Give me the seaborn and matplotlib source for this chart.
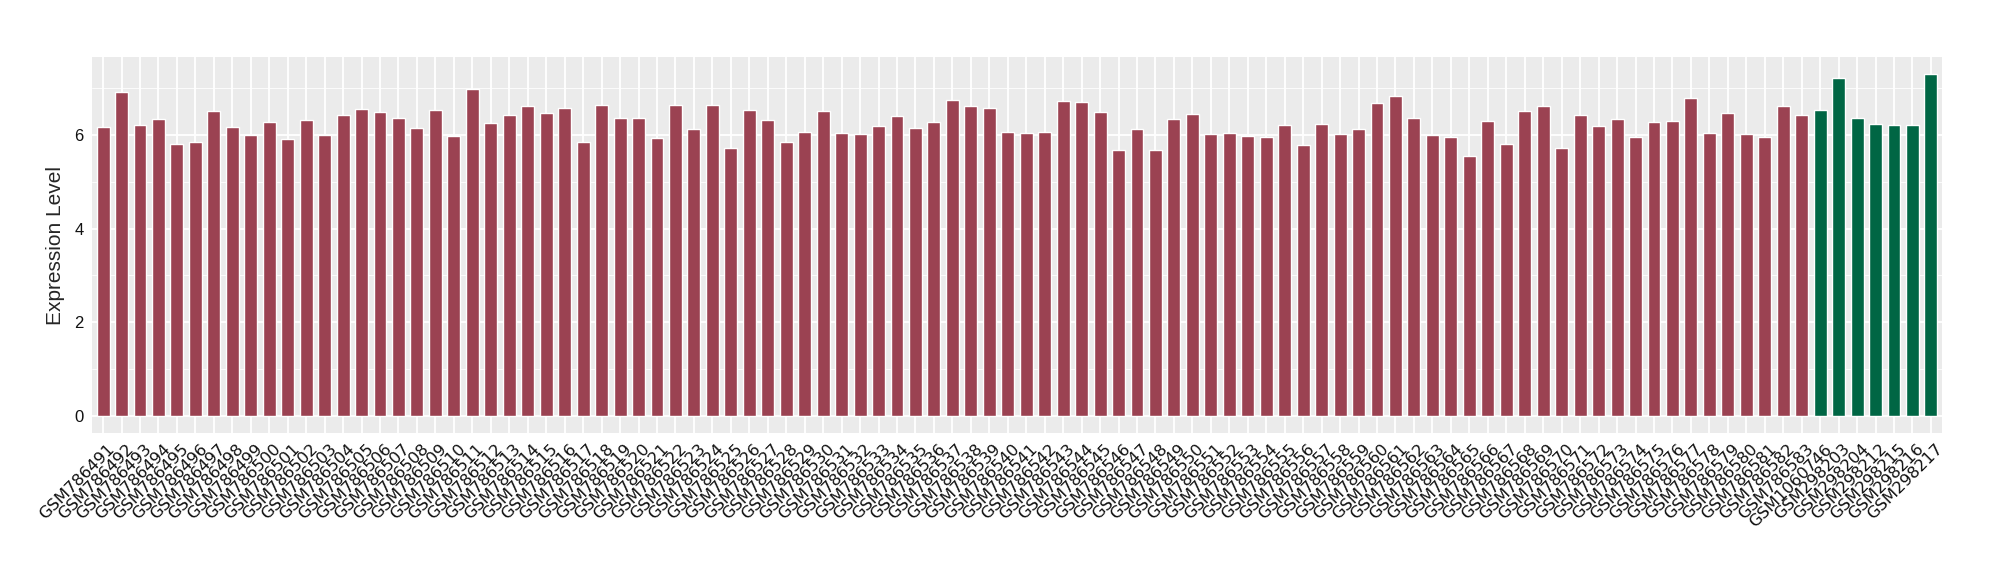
import matplotlib
matplotlib.use("Agg")
import matplotlib.pyplot as plt
import matplotlib.transforms as mtransforms
from matplotlib.ticker import MultipleLocator
import numpy as np
import pandas as pd
import seaborn as sns

# === DATA ===
red_samples = ["GSM%d" % n for n in range(786491, 786584)]
red_values = [
    6.17, 6.92, 6.21, 6.34, 5.81, 5.85, 6.51, 6.17, 6.00, 6.28,
    5.91, 6.32, 6.00, 6.43, 6.55, 6.49, 6.36, 6.15, 6.53, 5.98,
    6.98, 6.26, 6.43, 6.62, 6.47, 6.58, 5.85, 6.64, 6.36, 6.36,
    5.94, 6.64, 6.13, 6.64, 5.72, 6.53, 6.32, 5.85, 6.06, 6.51,
    6.04, 6.02, 6.19, 6.41, 6.15, 6.28, 6.75, 6.62, 6.58, 6.06,
    6.04, 6.06, 6.73, 6.70, 6.49, 5.68, 6.13, 5.68, 6.34, 6.45,
    6.02, 6.04, 5.98, 5.96, 6.21, 5.79, 6.23, 6.02, 6.13, 6.68,
    6.83, 6.36, 6.00, 5.96, 5.55, 6.30, 5.81, 6.51, 6.62, 5.72,
    6.43, 6.19, 6.34, 5.96, 6.28, 6.30, 6.79, 6.04, 6.47, 6.02,
    5.96, 6.62, 6.43,
]
green_samples = ["GSM1060746", "GSM298203", "GSM298204", "GSM298212",
                 "GSM298215", "GSM298216", "GSM298217"]
green_values = [6.53, 7.22, 6.36, 6.23, 6.21, 6.21, 7.30]

RED = "#9B4252"
GREEN = "#006644"

df = pd.DataFrame({
    "sample": red_samples + green_samples,
    "value": red_values + green_values,
    "group": ["a"] * len(red_samples) + ["b"] * len(green_samples),
})

# === PLOT ===
sns.set_theme(style="darkgrid", rc={
    "axes.facecolor": "#EBEBEB",
    "grid.color": "white",
})
plt.rcParams["font.family"] = ["Liberation Sans", "DejaVu Sans"]

fig = plt.figure(figsize=(20, 5.8), dpi=100)
ax = fig.add_axes([0.046, 0.2534, 0.925, 0.6483])

sns.barplot(data=df, x="sample", y="value", hue="group",
            palette={"a": RED, "b": GREEN}, width=0.7, dodge=False,
            legend=False, saturation=1, ax=ax)

ymax = df["value"].max()
ax.set_ylim(-0.05 * ymax, 1.05 * ymax)
ax.set_xlim(-0.6, len(df) - 0.4)
ax.yaxis.set_major_locator(MultipleLocator(2))
ax.yaxis.set_minor_locator(MultipleLocator(1))
ax.grid(which="major", color="white", linewidth=1.3)
ax.grid(which="minor", axis="y", color="white", linewidth=0.6)
ax.set_axisbelow(True)
for s in ax.spines.values():
    s.set_visible(False)

ax.tick_params(axis="both", which="major", length=4, width=0.8,
               color="#333333", labelcolor="#111111", pad=2)
ax.tick_params(axis="y", which="minor", length=0)
ax.tick_params(axis="y", labelsize=12)
plt.setp(ax.get_xticklabels(), rotation=45, ha="right",
         rotation_mode="anchor", fontsize=11.8, family="DejaVu Sans")
# nudge x labels a few pixels right, like the reference
shift = mtransforms.ScaledTranslation(4 / 100, 0, fig.dpi_scale_trans)
for lab in ax.get_xticklabels():
    lab.set_transform(lab.get_transform() + shift)

ax.set_xlabel("")
ax.set_ylabel("Expression Level", fontsize=15)
ax.yaxis.set_label_coords(-0.0146, 0.5)

plt.savefig("out.png", dpi=100)
plt.close()
